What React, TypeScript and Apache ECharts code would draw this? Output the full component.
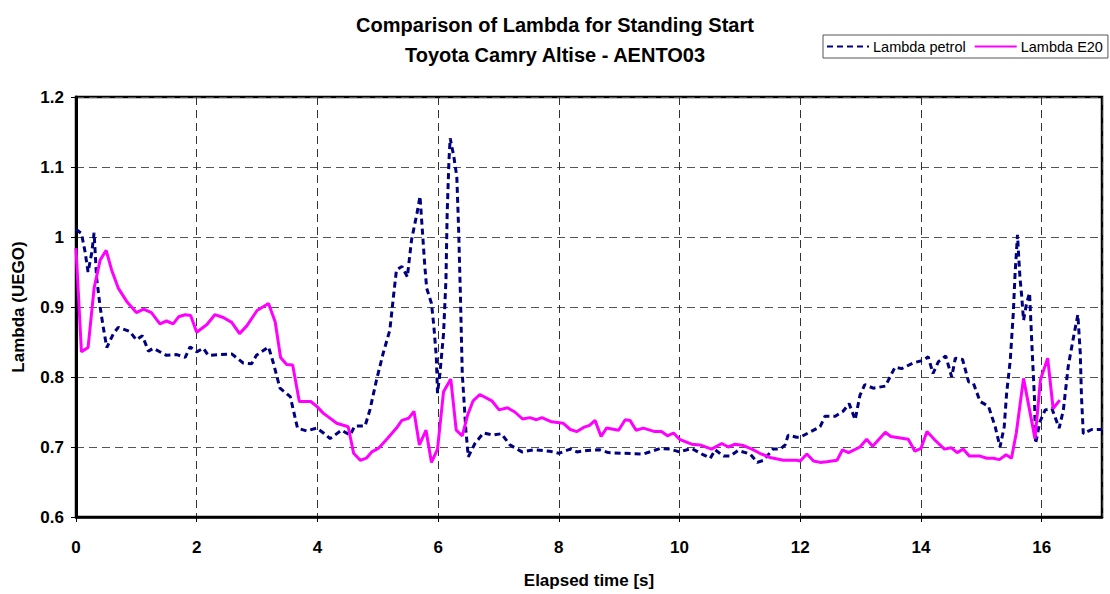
import React, { useEffect, useRef } from "react";
import * as echarts from "echarts";

const petrolTime = [
  0.0, 0.09, 0.15, 0.2, 0.26, 0.3, 0.34, 0.4, 0.45, 0.51, 0.62, 0.7, 0.89, 1.0, 1.1, 1.2, 1.28, 1.5, 1.67, 1.81,
  1.89, 2.0, 2.11, 2.19, 2.39, 2.58, 2.77, 2.91, 2.99, 3.19, 3.27, 3.38, 3.55, 3.67, 3.82, 3.99, 4.1, 4.21, 4.4, 4.54,
  4.62, 4.79, 4.87, 4.98, 5.09, 5.2, 5.26, 5.31, 5.4, 5.49, 5.56, 5.65, 5.7, 5.74, 5.78, 5.81, 5.89, 5.93, 5.97, 5.99,
  6.03, 6.09, 6.13, 6.15, 6.18, 6.2, 6.26, 6.31, 6.34, 6.37, 6.4, 6.46, 6.5, 6.61, 6.75, 6.91, 7.05, 7.19, 7.39, 7.58,
  7.85, 8.0, 8.19, 8.3, 8.47, 8.68, 8.82, 9.07, 9.4, 9.68, 9.84, 10.0, 10.2, 10.39, 10.51, 10.59, 10.73, 10.84, 10.97, 11.17,
  11.29, 11.39, 11.55, 11.67, 11.75, 11.8, 11.94, 12.0, 12.13, 12.33, 12.41, 12.58, 12.71, 12.81, 12.91, 12.99, 13.07, 13.21, 13.41, 13.57,
  13.68, 13.87, 14.04, 14.12, 14.2, 14.29, 14.41, 14.51, 14.57, 14.69, 14.79, 14.87, 14.98, 15.12, 15.23, 15.31, 15.38, 15.42, 15.48, 15.53,
  15.56, 15.6, 15.62, 15.64, 15.67, 15.7, 15.75, 15.8, 15.84, 15.88, 15.9, 15.97, 16.06, 16.17, 16.29, 16.36, 16.44, 16.53, 16.6, 16.64,
  16.66, 16.69, 16.83, 17.0,
];
const petrolLambda = [
  1.011, 1.005, 0.979, 0.95, 0.977, 1.006, 0.943, 0.9, 0.872, 0.842, 0.862, 0.871, 0.865, 0.853, 0.859, 0.837, 0.841, 0.831, 0.832, 0.828,
  0.843, 0.836, 0.841, 0.831, 0.832, 0.833, 0.82, 0.819, 0.831, 0.843, 0.82, 0.784, 0.772, 0.727, 0.723, 0.727, 0.72, 0.712, 0.724, 0.717,
  0.73, 0.73, 0.753, 0.796, 0.834, 0.867, 0.915, 0.953, 0.958, 0.943, 0.996, 1.034, 1.058, 1.008, 0.958, 0.927, 0.905, 0.872, 0.829, 0.777,
  0.805, 0.862, 0.939, 1.034, 1.11, 1.141, 1.115, 1.086, 1.01, 0.915, 0.805, 0.724, 0.686, 0.705, 0.72, 0.717, 0.719, 0.703, 0.693, 0.696,
  0.694, 0.691, 0.697, 0.693, 0.695, 0.696, 0.692, 0.691, 0.69, 0.698, 0.697, 0.693, 0.698, 0.689, 0.684, 0.696, 0.687, 0.687, 0.695, 0.69,
  0.678, 0.681, 0.697, 0.697, 0.703, 0.717, 0.714, 0.714, 0.72, 0.729, 0.744, 0.744, 0.751, 0.762, 0.739, 0.774, 0.789, 0.784, 0.787, 0.814,
  0.812, 0.82, 0.824, 0.829, 0.805, 0.822, 0.83, 0.8, 0.827, 0.825, 0.793, 0.791, 0.765, 0.758, 0.729, 0.7, 0.729, 0.777, 0.824, 0.891,
  0.948, 1.003, 0.972, 0.943, 0.915, 0.881, 0.905, 0.92, 0.843, 0.772, 0.705, 0.736, 0.753, 0.755, 0.727, 0.753, 0.815, 0.858, 0.889, 0.834,
  0.772, 0.719, 0.725, 0.725,
];

const e20Time = [
  0.0, 0.09, 0.2, 0.3, 0.4, 0.5, 0.59, 0.7, 0.84, 1.0, 1.12, 1.25, 1.39, 1.5, 1.61, 1.7, 1.81, 1.9, 2.0, 2.17,
  2.3, 2.44, 2.58, 2.71, 2.83, 3.0, 3.19, 3.3, 3.39, 3.49, 3.59, 3.7, 3.89, 3.99, 4.1, 4.18, 4.32, 4.51, 4.6, 4.71,
  4.81, 4.9, 5.01, 5.16, 5.31, 5.4, 5.51, 5.6, 5.69, 5.8, 5.89, 5.99, 6.09, 6.21, 6.3, 6.4, 6.49, 6.58, 6.69, 6.89,
  7.01, 7.15, 7.27, 7.4, 7.52, 7.63, 7.72, 7.88, 8.07, 8.19, 8.3, 8.41, 8.51, 8.6, 8.7, 8.79, 8.99, 9.1, 9.18, 9.28,
  9.4, 9.59, 9.7, 9.8, 9.9, 10.0, 10.2, 10.34, 10.53, 10.7, 10.81, 10.92, 11.06, 11.2, 11.33, 11.5, 11.72, 11.94, 12.0, 12.11,
  12.22, 12.33, 12.44, 12.61, 12.7, 12.8, 12.99, 13.1, 13.2, 13.41, 13.5, 13.79, 13.9, 14.0, 14.1, 14.23, 14.39, 14.5, 14.6, 14.7,
  14.8, 14.98, 15.09, 15.2, 15.3, 15.41, 15.5, 15.58, 15.7, 15.89, 15.98, 16.1, 16.19, 16.3,
];
const e20Lambda = [
  0.984, 0.836, 0.842, 0.927, 0.967, 0.981, 0.953, 0.927, 0.908, 0.892, 0.897, 0.892, 0.876, 0.88, 0.876, 0.886, 0.889, 0.888, 0.864, 0.875,
  0.889, 0.885, 0.878, 0.862, 0.873, 0.895, 0.905, 0.879, 0.828, 0.818, 0.817, 0.765, 0.765, 0.758, 0.748, 0.743, 0.734, 0.729, 0.691, 0.681,
  0.684, 0.693, 0.698, 0.712, 0.727, 0.738, 0.741, 0.751, 0.703, 0.724, 0.678, 0.697, 0.779, 0.797, 0.724, 0.716, 0.746, 0.766, 0.775, 0.766,
  0.753, 0.756, 0.75, 0.74, 0.742, 0.739, 0.742, 0.736, 0.734, 0.725, 0.722, 0.728, 0.731, 0.738, 0.715, 0.727, 0.724, 0.739, 0.738, 0.724,
  0.727, 0.722, 0.722, 0.716, 0.72, 0.711, 0.704, 0.703, 0.697, 0.705, 0.7, 0.704, 0.702, 0.697, 0.691, 0.685, 0.681, 0.681, 0.68, 0.69,
  0.68, 0.678, 0.679, 0.681, 0.696, 0.692, 0.7, 0.711, 0.701, 0.721, 0.715, 0.711, 0.694, 0.698, 0.722, 0.71, 0.697, 0.699, 0.692, 0.697,
  0.687, 0.687, 0.684, 0.684, 0.682, 0.689, 0.684, 0.72, 0.798, 0.712, 0.796, 0.827, 0.755, 0.767,
];

const titleLines = ["Comparison of Lambda for Standing Start", "Toyota Camry Altise - AENTO03"];
const seriesNames = ["Lambda petrol", "Lambda E20"];

const FONT = '"Liberation Sans", Arial, sans-serif';

export default function App() {
  const ref = useRef<HTMLDivElement>(null);
  useEffect(() => {
    if (!ref.current) return;
    const chart = echarts.init(ref.current, null, { renderer: "svg" });
    const petrolData = petrolTime.map((t, i) => [t, petrolLambda[i]]);
    const e20Data = e20Time.map((t, i) => [t, e20Lambda[i]]);
    chart.setOption({
      animation: false,
      backgroundColor: "#ffffff",
      title: {
        text: titleLines.join("\n"),
        left: "center",
        top: 5,
        textStyle: { fontFamily: FONT, fontSize: 20, fontWeight: "bold", color: "#000", lineHeight: 30 },
      },
      legend: {
        left: 823,
        top: 35,
        orient: "horizontal",
        itemWidth: 42,
        itemHeight: 14,
        itemGap: 8,
        padding: [4, 5, 4, 3],
        borderColor: "#555",
        borderWidth: 1,
        textStyle: { fontFamily: FONT, fontSize: 14.5, color: "#000", padding: [0, 0, 0, -1] },
        itemStyle: { color: "rgba(0,0,0,0)", borderColor: "rgba(0,0,0,0)", borderWidth: 0, opacity: 0 },
        data: seriesNames,
      },
      grid: {
        left: 76,
        top: 97,
        right: 8,
        bottom: 77,
        show: true,
        borderColor: "#000",
        borderWidth: 2.5,
        containLabel: false,
      },
      xAxis: {
        type: "value",
        min: 0,
        max: 17,
        interval: 2,
        name: "Elapsed time [s]",
        nameLocation: "middle",
        nameGap: 55,
        nameTextStyle: { fontFamily: FONT, fontSize: 17, fontWeight: "bold", color: "#000" },
        axisLine: { show: true, onZero: false, lineStyle: { color: "#000", width: 2.5 } },
        axisTick: { show: true, length: 5, lineStyle: { color: "#000", width: 1 } },
        axisLabel: {
          showMaxLabel: false,
          margin: 22,
          fontFamily: FONT,
          fontSize: 17,
          fontWeight: "bold",
          color: "#000",
        },
        splitLine: { show: true, lineStyle: { color: "#333", type: [8, 5], width: 1 } },
      },
      yAxis: {
        type: "value",
        min: 0.6,
        max: 1.2,
        interval: 0.1,
        name: "Lambda (UEGO)",
        nameLocation: "middle",
        nameGap: 49,
        nameTextStyle: { fontFamily: FONT, fontSize: 17, fontWeight: "bold", color: "#000" },
        axisLine: { show: true, lineStyle: { color: "#000", width: 3 } },
        axisTick: { show: true, length: 5, lineStyle: { color: "#000", width: 1 } },
        axisLabel: { margin: 12, fontFamily: FONT, fontSize: 17, fontWeight: "bold", color: "#000" },
        splitLine: { show: true, lineStyle: { color: "#555", type: [8, 5], width: 1 } },
      },
      series: [
        {
          name: seriesNames[0],
          type: "line",
          data: petrolData,
          showSymbol: false,
          symbol: "none",
          lineStyle: { color: "#000080", width: 3, type: [6, 4], cap: "butt" },
          itemStyle: { color: "#000080" },
          z: 3,
        },
        {
          name: seriesNames[1],
          type: "line",
          data: e20Data,
          showSymbol: false,
          symbol: "none",
          lineStyle: { color: "#ff00ff", width: 3, type: "solid" },
          itemStyle: { color: "#ff00ff" },
          z: 4,
        },
      ],
    });
    return () => chart.dispose();
  }, []);
  return (
    <div
      ref={ref}
      style={{ position: "fixed", left: 0, top: 0, width: 1110, height: 594, background: "#fff" }}
    />
  );
}
